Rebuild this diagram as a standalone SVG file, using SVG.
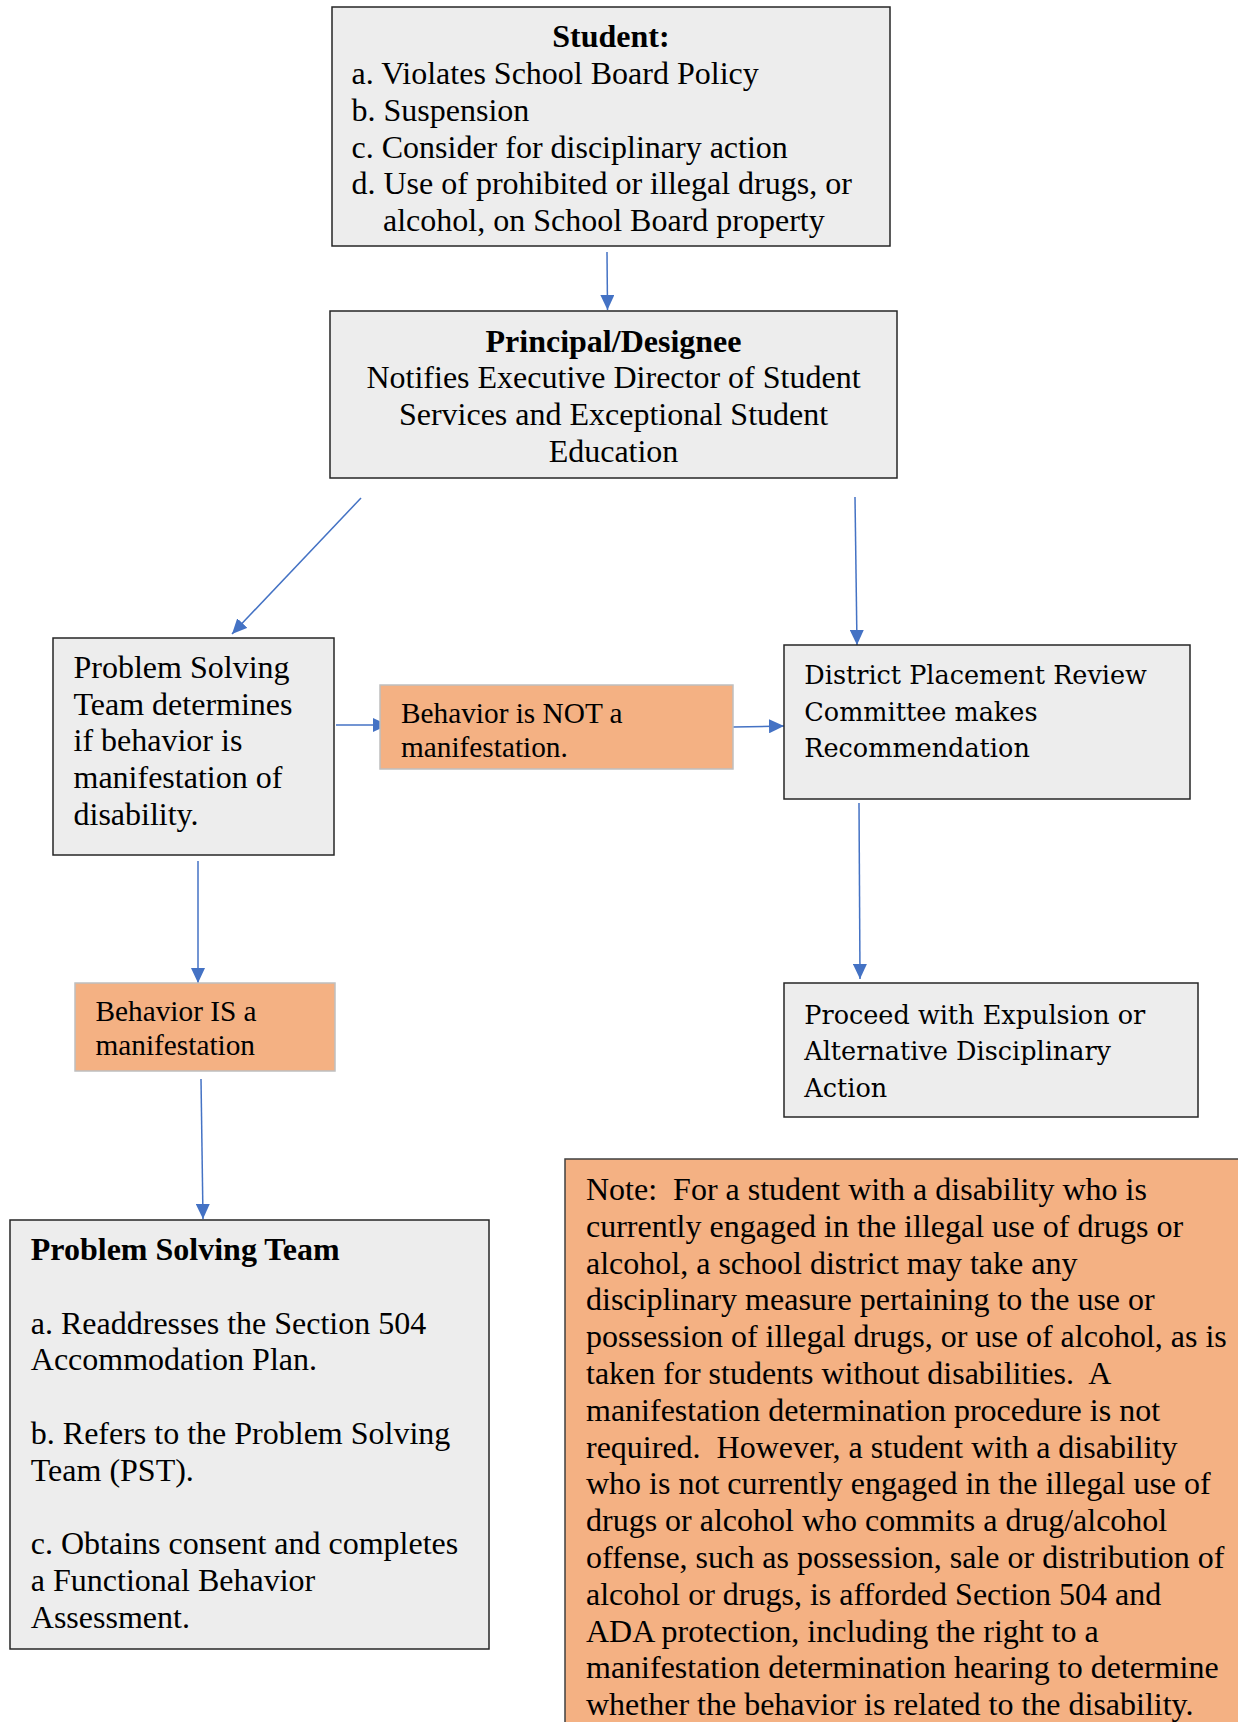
<svg xmlns="http://www.w3.org/2000/svg" width="1238" height="1722" viewBox="0 0 1238 1722">
<style>
.box{fill:#EDEDED;stroke:#262626;stroke-width:1.5}
.obox{fill:#F4B183;stroke:#BFBFBF;stroke-width:1.5}
.nbox{fill:#F4B183;stroke:#404040;stroke-width:1.5}
.t{font-family:"Liberation Serif","Times New Roman",serif;font-size:32px;fill:#000}
.tb{font-family:"Liberation Serif","Times New Roman",serif;font-size:32px;font-weight:bold;fill:#000}
.ts{font-family:"Liberation Serif","Times New Roman",serif;font-size:29.3px;fill:#000}
.tc{font-family:"DejaVu Serif",serif;font-size:25.5px;fill:#000}
.c{fill:none;stroke:#4472C4;stroke-width:1.5;marker-end:url(#ah)}
</style>
<defs>
<marker id="ah" markerUnits="userSpaceOnUse" markerWidth="16" markerHeight="14" refX="15" refY="7" orient="auto">
<path d="M0,0 L15,7 L0,14 z" fill="#4472C4"/>
</marker>
</defs>
<rect width="1238" height="1722" fill="#FFFFFF"/>
<g id="connectors">
<line class="c" x1="607" y1="252" x2="607.5" y2="310"/>
<line class="c" x1="361" y1="498" x2="232" y2="634"/>
<line class="c" x1="855" y1="497" x2="857" y2="645"/>
<line class="c" x1="336" y1="725" x2="388" y2="725"/>
<line class="c" x1="733" y1="727" x2="784" y2="726"/>
<line class="c" x1="198" y1="861" x2="198" y2="983"/>
<line class="c" x1="201" y1="1079" x2="203" y2="1219"/>
<line class="c" x1="859" y1="803" x2="860" y2="979"/>
</g>
<g id="student">
<rect class="box" x="332" y="7" width="558" height="239"/>
<text class="tb" x="611" y="47.2" text-anchor="middle">Student:</text>
<text class="t" x="351.5" y="84">a. Violates School Board Policy</text>
<text class="t" x="351.5" y="120.8">b. Suspension</text>
<text class="t" x="351.5" y="157.6">c. Consider for disciplinary action</text>
<text class="t" x="351.5" y="194.4">d. Use of prohibited or illegal drugs, or</text>
<text class="t" x="383" y="231.2">alcohol, on School Board property</text>
</g>
<g id="principal">
<rect class="box" x="330" y="311" width="567" height="167"/>
<text class="tb" x="613.5" y="351.5" text-anchor="middle">Principal/Designee</text>
<text class="t" x="613.5" y="388.3" text-anchor="middle">Notifies Executive Director of Student</text>
<text class="t" x="613.5" y="425.1" text-anchor="middle">Services and Exceptional Student</text>
<text class="t" x="613.5" y="461.9" text-anchor="middle">Education</text>
</g>
<g id="pst-determines">
<rect class="box" x="53" y="638" width="281" height="217"/>
<text class="t" x="73.5" y="677.8">Problem Solving</text>
<text class="t" x="73.5" y="714.6">Team determines</text>
<text class="t" x="73.5" y="751.4">if behavior is</text>
<text class="t" x="73.5" y="788.2">manifestation of</text>
<text class="t" x="73.5" y="825">disability.</text>
</g>
<g id="not-manifestation">
<rect class="obox" x="380" y="685" width="353" height="84"/>
<text class="ts" x="401" y="722.8">Behavior is NOT a</text>
<text class="ts" x="401" y="756.9">manifestation.</text>
</g>
<g id="district">
<rect class="box" x="784" y="645" width="406" height="154"/>
<text class="tc" x="804.3" y="684.3">District Placement Review</text>
<text class="tc" x="804.3" y="720.8">Committee makes</text>
<text class="tc" x="804.3" y="757.3">Recommendation</text>
</g>
<g id="is-manifestation">
<rect class="obox" x="75" y="983" width="260" height="88"/>
<text class="ts" x="95.5" y="1020.5">Behavior IS a</text>
<text class="ts" x="95.5" y="1054.6">manifestation</text>
</g>
<g id="proceed">
<rect class="box" x="784" y="983" width="414" height="134"/>
<text class="tc" x="804.3" y="1023.5">Proceed with Expulsion or</text>
<text class="tc" x="804.3" y="1060">Alternative Disciplinary</text>
<text class="tc" x="804.3" y="1096.5">Action</text>
</g>
<g id="pst">
<rect class="box" x="10" y="1220" width="479" height="429"/>
<text class="tb" x="30.8" y="1260">Problem Solving Team</text>
<text class="t" x="30.8" y="1333.6">a. Readdresses the Section 504</text>
<text class="t" x="30.8" y="1370.4">Accommodation Plan.</text>
<text class="t" x="30.8" y="1444">b. Refers to the Problem Solving</text>
<text class="t" x="30.8" y="1480.8">Team (PST).</text>
<text class="t" x="30.8" y="1554.4">c. Obtains consent and completes</text>
<text class="t" x="30.8" y="1591.2">a Functional Behavior</text>
<text class="t" x="30.8" y="1628">Assessment.</text>
</g>
<g id="note">
<rect class="nbox" x="565" y="1159" width="700" height="600"/>
<text class="t" x="586" y="1200" xml:space="preserve">Note:  For a student with a disability who is</text>
<text class="t" x="586" y="1236.8">currently engaged in the illegal use of drugs or</text>
<text class="t" x="586" y="1273.6">alcohol, a school district may take any</text>
<text class="t" x="586" y="1310.4">disciplinary measure pertaining to the use or</text>
<text class="t" x="586" y="1347.2">possession of illegal drugs, or use of alcohol, as is</text>
<text class="t" x="586" y="1384" xml:space="preserve">taken for students without disabilities.  A</text>
<text class="t" x="586" y="1420.8">manifestation determination procedure is not</text>
<text class="t" x="586" y="1457.6" xml:space="preserve">required.  However, a student with a disability</text>
<text class="t" x="586" y="1494.4">who is not currently engaged in the illegal use of</text>
<text class="t" x="586" y="1531.2">drugs or alcohol who commits a drug/alcohol</text>
<text class="t" x="586" y="1568">offense, such as possession, sale or distribution of</text>
<text class="t" x="586" y="1604.8">alcohol or drugs, is afforded Section 504 and</text>
<text class="t" x="586" y="1641.6">ADA protection, including the right to a</text>
<text class="t" x="586" y="1678.4">manifestation determination hearing to determine</text>
<text class="t" x="586" y="1715.2">whether the behavior is related to the disability.</text>
</g>
</svg>
